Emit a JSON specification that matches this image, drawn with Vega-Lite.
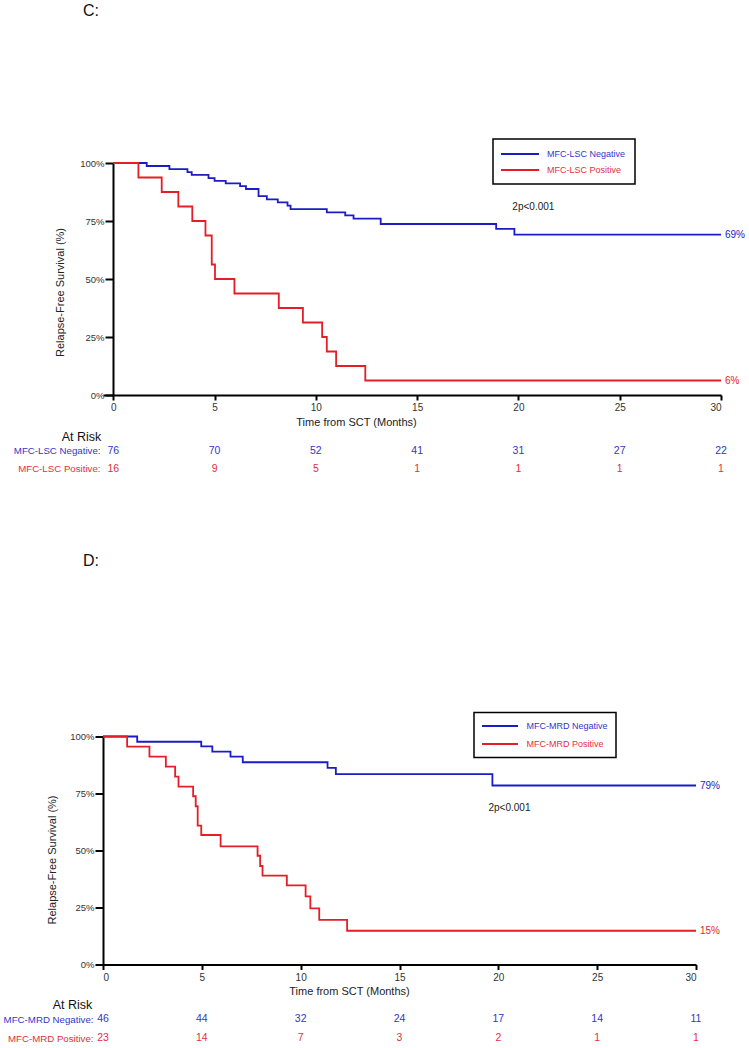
{
  "$schema": "https://vega.github.io/schema/vega-lite/v6.json",
  "background": "white",
  "padding": {"left": 0, "top": 3, "right": 0, "bottom": 0},
  "config": {
    "view": {"stroke": null},
    "font": "Liberation Sans",
    "axis": {"domainColor": "black", "domainWidth": 2, "tickColor": "black", "tickWidth": 2, "labelColor": "#333333", "titleColor": "#222222", "labelFont": "Liberation Sans", "titleFont": "Liberation Sans", "titleFontWeight": "normal", "grid": false},
    "title": {"fontWeight": "normal", "color": "#111111", "fontSize": 16, "anchor": "start", "frame": "group", "font": "Liberation Sans"}
  },
  "datasets": {
    "c_curve": [
      {"group": "MFC-LSC Negative", "t": 0, "s": 1},
      {"group": "MFC-LSC Negative", "t": 1.65, "s": 0.987},
      {"group": "MFC-LSC Negative", "t": 2.77, "s": 0.974},
      {"group": "MFC-LSC Negative", "t": 3.66, "s": 0.961},
      {"group": "MFC-LSC Negative", "t": 3.87, "s": 0.949},
      {"group": "MFC-LSC Negative", "t": 4.7, "s": 0.935},
      {"group": "MFC-LSC Negative", "t": 5.0, "s": 0.923},
      {"group": "MFC-LSC Negative", "t": 5.55, "s": 0.912},
      {"group": "MFC-LSC Negative", "t": 6.26, "s": 0.9},
      {"group": "MFC-LSC Negative", "t": 6.55, "s": 0.888},
      {"group": "MFC-LSC Negative", "t": 7.17, "s": 0.857},
      {"group": "MFC-LSC Negative", "t": 7.58, "s": 0.843},
      {"group": "MFC-LSC Negative", "t": 8.12, "s": 0.83},
      {"group": "MFC-LSC Negative", "t": 8.6, "s": 0.816},
      {"group": "MFC-LSC Negative", "t": 8.75, "s": 0.801},
      {"group": "MFC-LSC Negative", "t": 10.54, "s": 0.787},
      {"group": "MFC-LSC Negative", "t": 11.45, "s": 0.774},
      {"group": "MFC-LSC Negative", "t": 11.86, "s": 0.76},
      {"group": "MFC-LSC Negative", "t": 13.2, "s": 0.737},
      {"group": "MFC-LSC Negative", "t": 18.9, "s": 0.716},
      {"group": "MFC-LSC Negative", "t": 19.8, "s": 0.691},
      {"group": "MFC-LSC Negative", "t": 30, "s": 0.691},
      {"group": "MFC-LSC Positive", "t": 0, "s": 1},
      {"group": "MFC-LSC Positive", "t": 1.24, "s": 0.9375},
      {"group": "MFC-LSC Positive", "t": 2.39, "s": 0.875},
      {"group": "MFC-LSC Positive", "t": 3.21, "s": 0.8125},
      {"group": "MFC-LSC Positive", "t": 3.9, "s": 0.75},
      {"group": "MFC-LSC Positive", "t": 4.55, "s": 0.6875},
      {"group": "MFC-LSC Positive", "t": 4.86, "s": 0.5625},
      {"group": "MFC-LSC Positive", "t": 5.02, "s": 0.5},
      {"group": "MFC-LSC Positive", "t": 5.98, "s": 0.4375},
      {"group": "MFC-LSC Positive", "t": 8.17, "s": 0.375},
      {"group": "MFC-LSC Positive", "t": 9.36, "s": 0.3125},
      {"group": "MFC-LSC Positive", "t": 10.31, "s": 0.25},
      {"group": "MFC-LSC Positive", "t": 10.54, "s": 0.1875},
      {"group": "MFC-LSC Positive", "t": 11.0, "s": 0.125},
      {"group": "MFC-LSC Positive", "t": 12.44, "s": 0.0625},
      {"group": "MFC-LSC Positive", "t": 30, "s": 0.0625}
    ],
    "c_end": [
      {"group": "MFC-LSC Negative", "t": 30, "s": 0.691, "label": "69%"},
      {"group": "MFC-LSC Positive", "t": 30, "s": 0.0625, "label": "6%"}
    ],
    "c_risk": [
      {"group": "MFC-LSC Negative", "t": 0, "n": 76},
      {"group": "MFC-LSC Negative", "t": 5, "n": 70},
      {"group": "MFC-LSC Negative", "t": 10, "n": 52},
      {"group": "MFC-LSC Negative", "t": 15, "n": 41},
      {"group": "MFC-LSC Negative", "t": 20, "n": 31},
      {"group": "MFC-LSC Negative", "t": 25, "n": 27},
      {"group": "MFC-LSC Negative", "t": 30, "n": 22},
      {"group": "MFC-LSC Positive", "t": 0, "n": 16},
      {"group": "MFC-LSC Positive", "t": 5, "n": 9},
      {"group": "MFC-LSC Positive", "t": 10, "n": 5},
      {"group": "MFC-LSC Positive", "t": 15, "n": 1},
      {"group": "MFC-LSC Positive", "t": 20, "n": 1},
      {"group": "MFC-LSC Positive", "t": 25, "n": 1},
      {"group": "MFC-LSC Positive", "t": 30, "n": 1}
    ],
    "d_curve": [
      {"group": "MFC-MRD Negative", "t": 0, "s": 1},
      {"group": "MFC-MRD Negative", "t": 1.73, "s": 0.977},
      {"group": "MFC-MRD Negative", "t": 4.97, "s": 0.957},
      {"group": "MFC-MRD Negative", "t": 5.53, "s": 0.934},
      {"group": "MFC-MRD Negative", "t": 6.45, "s": 0.912},
      {"group": "MFC-MRD Negative", "t": 7.07, "s": 0.887},
      {"group": "MFC-MRD Negative", "t": 11.36, "s": 0.862},
      {"group": "MFC-MRD Negative", "t": 11.78, "s": 0.835},
      {"group": "MFC-MRD Negative", "t": 19.7, "s": 0.785},
      {"group": "MFC-MRD Negative", "t": 30, "s": 0.785},
      {"group": "MFC-MRD Positive", "t": 0, "s": 1},
      {"group": "MFC-MRD Positive", "t": 1.22, "s": 0.956},
      {"group": "MFC-MRD Positive", "t": 2.35, "s": 0.912},
      {"group": "MFC-MRD Positive", "t": 3.18, "s": 0.868},
      {"group": "MFC-MRD Positive", "t": 3.65, "s": 0.824},
      {"group": "MFC-MRD Positive", "t": 3.82, "s": 0.78},
      {"group": "MFC-MRD Positive", "t": 4.56, "s": 0.738},
      {"group": "MFC-MRD Positive", "t": 4.69, "s": 0.694},
      {"group": "MFC-MRD Positive", "t": 4.79, "s": 0.609},
      {"group": "MFC-MRD Positive", "t": 4.97, "s": 0.568},
      {"group": "MFC-MRD Positive", "t": 5.95, "s": 0.518},
      {"group": "MFC-MRD Positive", "t": 7.82, "s": 0.477},
      {"group": "MFC-MRD Positive", "t": 7.95, "s": 0.432},
      {"group": "MFC-MRD Positive", "t": 8.07, "s": 0.39},
      {"group": "MFC-MRD Positive", "t": 9.3, "s": 0.347},
      {"group": "MFC-MRD Positive", "t": 10.25, "s": 0.299},
      {"group": "MFC-MRD Positive", "t": 10.49, "s": 0.246},
      {"group": "MFC-MRD Positive", "t": 10.94, "s": 0.196},
      {"group": "MFC-MRD Positive", "t": 12.35, "s": 0.148},
      {"group": "MFC-MRD Positive", "t": 30, "s": 0.148}
    ],
    "d_end": [
      {"group": "MFC-MRD Negative", "t": 30, "s": 0.785, "label": "79%"},
      {"group": "MFC-MRD Positive", "t": 30, "s": 0.148, "label": "15%"}
    ],
    "d_risk": [
      {"group": "MFC-MRD Negative", "t": 0, "n": 46},
      {"group": "MFC-MRD Negative", "t": 5, "n": 44},
      {"group": "MFC-MRD Negative", "t": 10, "n": 32},
      {"group": "MFC-MRD Negative", "t": 15, "n": 24},
      {"group": "MFC-MRD Negative", "t": 20, "n": 17},
      {"group": "MFC-MRD Negative", "t": 25, "n": 14},
      {"group": "MFC-MRD Negative", "t": 30, "n": 11},
      {"group": "MFC-MRD Positive", "t": 0, "n": 23},
      {"group": "MFC-MRD Positive", "t": 5, "n": 14},
      {"group": "MFC-MRD Positive", "t": 10, "n": 7},
      {"group": "MFC-MRD Positive", "t": 15, "n": 3},
      {"group": "MFC-MRD Positive", "t": 20, "n": 2},
      {"group": "MFC-MRD Positive", "t": 25, "n": 1},
      {"group": "MFC-MRD Positive", "t": 30, "n": 1}
    ]
  },
  "spacing": 74.5,
  "resolve": {"scale": {"color": "independent"}, "legend": {"color": "independent"}},
  "vconcat": [
    {
      "vconcat": [
        {
          "title": {"text": "C:", "dx": -20, "offset": 119},
          "width": 618,
          "height": 232,
          "layer": [
            {
              "data": {"name": "c_curve"},
              "mark": {"type": "line", "interpolate": "step-after", "strokeWidth": 1.8},
              "encoding": {
                "x": {"field": "t", "type": "quantitative", "scale": {"domain": [-0.5085, 30], "nice": false, "zero": false},
                  "axis": {"values": [0, 5, 10, 15, 20, 25, 30], "title": "Time from SCT (Months)", "titleFontSize": 11, "titleX": 253, "titlePadding": 4, "labelFontSize": 10, "labelPadding": 2, "tickSize": 5}},
                "y": {"field": "s", "type": "quantitative", "scale": {"domain": [0, 1], "nice": false},
                  "axis": {"offset": -10, "values": [0, 0.25, 0.5, 0.75, 1], "format": ".0%", "title": "Relapse-Free Survival (%)", "titleFontSize": 11, "titleX": -53, "titleY": 129, "titleBaseline": "middle", "labelFontSize": 9.5, "labelPadding": 1, "tickSize": 8}},
                "color": {"field": "group", "type": "nominal",
                  "scale": {"domain": ["MFC-LSC Negative", "MFC-LSC Positive"], "range": ["#1c1cc4", "#e41e26"]},
                  "legend": {"orient": "none", "legendX": 390, "legendY": -24, "title": null, "symbolType": "M-4,0H4", "symbolSize": 90.25, "symbolStrokeWidth": 2, "symbolOffset": 12, "labelOffset": 21, "padding": 9, "rowPadding": 5, "labelFontSize": 9, "labelFont": "Liberation Sans", "strokeColor": "black",
                    "labelExpr": "datum.label + '\u00a0\u00a0\u00a0\u00a0\u00a0\u00a0\u00a0\u00a0\u00a0\u00a0\u00a0\u00a0\u00a0\u00a0\u00a0\u00a0\u00a0\u00a0\u00a0\u00a0\u00a0\u00a0'",
                    "encode": {"legend": {"update": {"strokeWidth": {"value": 1.5}}}, "labels": {"update": {"fill": {"signal": "datum.value === 'MFC-LSC Negative' ? '#3535c8' : '#e23040'"}}}}}}
              }
            },
            {
              "data": {"name": "c_end"},
              "mark": {"type": "text", "align": "left", "dx": 4, "fontSize": 10},
              "encoding": {
                "x": {"field": "t", "type": "quantitative"},
                "y": {"field": "s", "type": "quantitative"},
                "text": {"field": "label"},
                "color": {"field": "group", "type": "nominal"}
              }
            },
            {
              "data": {"values": [{"t": 19.7, "s": 0.81, "label": "2p<0.001"}]},
              "mark": {"type": "text", "align": "left", "fontSize": 10, "color": "#222222"},
              "encoding": {
                "x": {"field": "t", "type": "quantitative"},
                "y": {"field": "s", "type": "quantitative"},
                "text": {"field": "label"}
              }
            }
          ]
        },
        {
          "width": 618,
          "height": 36,
          "data": {"name": "c_risk"},
          "mark": {"type": "text", "fontSize": 10.5},
          "encoding": {
            "x": {"field": "t", "type": "quantitative", "scale": {"domain": [-0.5085, 30], "nice": false}, "axis": null},
            "y": {"field": "group", "type": "nominal", "scale": {"domain": ["MFC-LSC Negative", "MFC-LSC Positive"]},
              "axis": {"offset": -10, "title": "At Risk", "titleAngle": 0, "titleX": -32, "titleY": -5, "titleAlign": "center", "titleBaseline": "middle", "titleFontSize": 12.5, "titleColor": "#111111",
                "labelExpr": "datum.label + ':'", "labelColor": {"condition": {"test": "datum.value === 'MFC-LSC Negative'", "value": "#3535c8"}, "value": "#e23040"},
                "labelFontSize": 9.7, "labelPadding": 13, "ticks": false, "tickSize": 0, "domain": false, "labelLimit": 300}},
            "text": {"field": "n", "type": "quantitative"},
            "color": {"field": "group", "type": "nominal", "scale": {"domain": ["MFC-LSC Negative", "MFC-LSC Positive"], "range": ["#3535c8", "#e23040"]}, "legend": null}
          }
        }
      ],
      "spacing": 46.5,
      "bounds": "flush",
      "resolve": {"scale": {"color": "independent"}, "legend": {"color": "independent"}}
    },
    {
      "vconcat": [
        {
          "title": {"text": "D:", "dx": -20, "offset": 143},
          "width": 593,
          "height": 228,
          "layer": [
            {
              "data": {"name": "d_curve"},
              "mark": {"type": "line", "interpolate": "step-after", "strokeWidth": 1.8},
              "encoding": {
                "x": {"field": "t", "type": "quantitative", "scale": {"domain": [0, 30], "nice": false, "zero": false},
                  "axis": {"values": [0, 5, 10, 15, 20, 25, 30], "title": "Time from SCT (Months)", "titleFontSize": 11, "titleX": 246, "titlePadding": 3, "labelFontSize": 10, "labelPadding": 3, "tickSize": 5}},
                "y": {"field": "s", "type": "quantitative", "scale": {"domain": [0, 1], "nice": false},
                  "axis": {"values": [0, 0.25, 0.5, 0.75, 1], "format": ".0%", "title": "Relapse-Free Survival (%)", "titleFontSize": 11, "titleX": -51, "titleY": 123, "titleBaseline": "middle", "labelFontSize": 9.5, "labelPadding": 1, "tickSize": 8}},
                "color": {"field": "group", "type": "nominal",
                  "scale": {"domain": ["MFC-MRD Negative", "MFC-MRD Positive"], "range": ["#1c1cc4", "#e41e26"]},
                  "legend": {"orient": "none", "legendX": 371, "legendY": -24, "title": null, "symbolType": "M-4,0H4", "symbolSize": 81, "symbolStrokeWidth": 2, "symbolOffset": 12.5, "labelOffset": 21, "padding": 8, "rowPadding": 7, "labelFontSize": 9, "labelFont": "Liberation Sans", "strokeColor": "black",
                    "labelExpr": "datum.label + '\u00a0\u00a0\u00a0\u00a0\u00a0\u00a0\u00a0\u00a0\u00a0\u00a0\u00a0\u00a0\u00a0\u00a0\u00a0\u00a0\u00a0\u00a0'",
                    "encode": {"legend": {"update": {"strokeWidth": {"value": 1.5}}}, "labels": {"update": {"fill": {"signal": "datum.value === 'MFC-MRD Negative' ? '#3535c8' : '#e23040'"}}}}}}
              }
            },
            {
              "data": {"name": "d_end"},
              "mark": {"type": "text", "align": "left", "dx": 4, "fontSize": 10},
              "encoding": {
                "x": {"field": "t", "type": "quantitative"},
                "y": {"field": "s", "type": "quantitative"},
                "text": {"field": "label"},
                "color": {"field": "group", "type": "nominal"}
              }
            },
            {
              "data": {"values": [{"t": 19.5, "s": 0.687, "label": "2p<0.001"}]},
              "mark": {"type": "text", "align": "left", "fontSize": 10, "color": "#222222"},
              "encoding": {
                "x": {"field": "t", "type": "quantitative"},
                "y": {"field": "s", "type": "quantitative"},
                "text": {"field": "label"}
              }
            }
          ]
        },
        {
          "width": 593,
          "height": 38,
          "data": {"name": "d_risk"},
          "mark": {"type": "text", "fontSize": 10.5},
          "encoding": {
            "x": {"field": "t", "type": "quantitative", "scale": {"domain": [0, 30], "nice": false}, "axis": null},
            "y": {"field": "group", "type": "nominal", "scale": {"domain": ["MFC-MRD Negative", "MFC-MRD Positive"]},
              "axis": {"title": "At Risk", "titleAngle": 0, "titleX": -31, "titleY": -5.5, "titleAlign": "center", "titleBaseline": "middle", "titleFontSize": 12.5, "titleColor": "#111111",
                "labelExpr": "datum.label + ':'", "labelColor": {"condition": {"test": "datum.value === 'MFC-MRD Negative'", "value": "#3535c8"}, "value": "#e23040"},
                "labelFontSize": 9.7, "labelPadding": 10, "ticks": false, "tickSize": 0, "domain": false, "minExtent": 103, "labelLimit": 300}},
            "text": {"field": "n", "type": "quantitative"},
            "color": {"field": "group", "type": "nominal", "scale": {"domain": ["MFC-MRD Negative", "MFC-MRD Positive"], "range": ["#3535c8", "#e23040"]}, "legend": null}
          }
        }
      ],
      "spacing": 45,
      "bounds": "flush",
      "resolve": {"scale": {"color": "independent"}, "legend": {"color": "independent"}}
    }
  ]
}
